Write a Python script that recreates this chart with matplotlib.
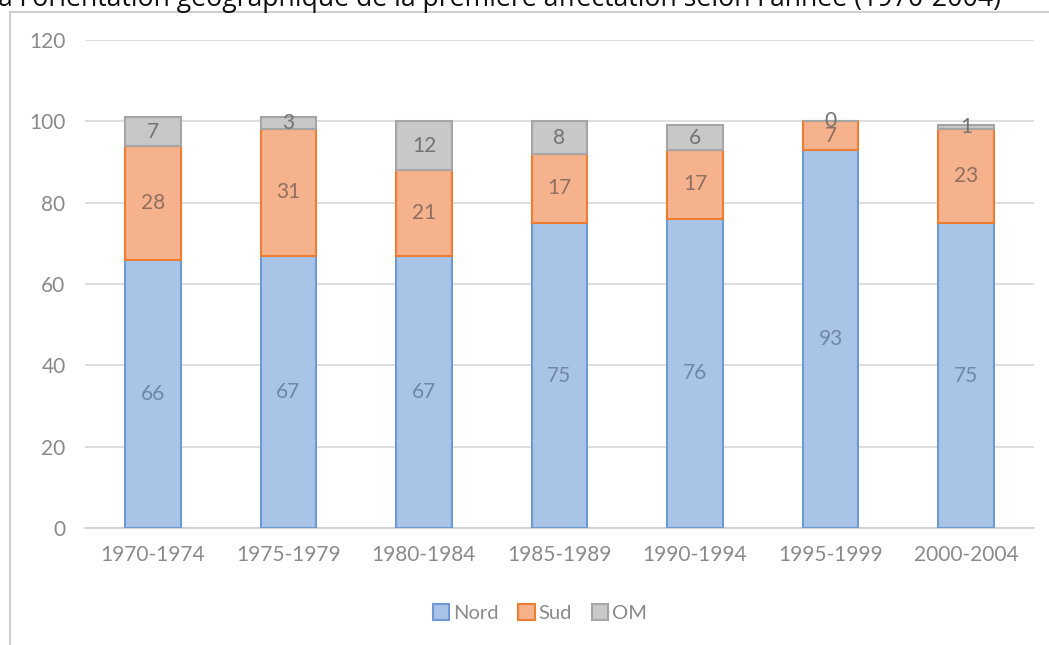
import matplotlib
matplotlib.use("Agg")
import matplotlib.pyplot as plt
from matplotlib.patches import Rectangle
import numpy as np

# Périodes et répartition (%) de la première affectation
periodes = ["1970-1974", "1975-1979", "1980-1984", "1985-1989", "1990-1994", "1995-1999", "2000-2004"]
nord = [66, 67, 67, 75, 76, 93, 75]
sud = [28, 31, 21, 17, 17, 7, 23]
om = [7, 3, 12, 8, 6, 0, 1]
yticks = [0, 20, 40, 60, 80, 100, 120]

plt.rcParams["font.family"] = ["Lato", "DejaVu Sans"]

fig = plt.figure(figsize=(10.49, 6.45), dpi=100)
ax = fig.add_axes([85 / 1049, 1 - 528 / 645, (1034 - 85) / 1049, (528 - 40) / 645])

# cadre du graphique
fig.patches.append(Rectangle((10 / 1049, -0.1), 1.2, 1 - 12 / 645 + 0.1, transform=fig.transFigure,
                             facecolor="none", edgecolor="#d0d0d0", linewidth=1.5, zorder=0))

# titre (partiellement coupé en haut)
fig.text(-0.002, 1 + 1.5 / 645, "a l'orientation géographique de la première affectation selon l'année (1970-2004)",
         ha="left", va="center", fontsize=19.2, color="#111111", family=["Open Sans", "DejaVu Sans"])

x = np.arange(len(periodes))
w = 0.41
styles = [
    ("Nord", nord, "#a8c4e7", "#6e9ad4", "#7088a8"),
    ("Sud", sud, "#f5b28c", "#ed7d31", "#8f7060"),
    ("OM", om, "#c8c8c8", "#a5a5a5", "#737373"),
]
bottom = np.zeros(len(periodes))
for name, vals, fc, ec, tc in styles:
    vals = np.array(vals, dtype=float)
    ax.bar(x, vals, w, bottom=bottom, color=fc, edgecolor=ec, linewidth=1.5, label=name, zorder=3)
    for xi, b, v in zip(x, bottom, vals):
        ax.text(xi, b + v / 2, f"{int(v)}", ha="center", va="center", fontsize=15, color=tc, zorder=4)
    bottom += vals

ax.set_xlim(-0.5, len(periodes) - 0.5)
ax.set_ylim(0, 120)
ax.set_yticks(yticks)
ax.set_xticks(x)
ax.set_xticklabels(periodes)
ax.yaxis.grid(True, color="#d9d9d9", linewidth=1.2, zorder=0)
ax.set_axisbelow(True)
for s in ["top", "right", "left"]:
    ax.spines[s].set_visible(False)
ax.spines["bottom"].set_color("#d0d0d0")
ax.spines["bottom"].set_linewidth(1.2)
ax.tick_params(axis="both", length=0, labelsize=15, labelcolor="#8a8a8a")
ax.tick_params(axis="x", pad=12)
ax.tick_params(axis="y", pad=14)

handles, labels = ax.get_legend_handles_labels()
fig.legend(handles, labels, loc="center", bbox_to_anchor=(540 / 1049, 1 - 613 / 645), ncol=3,
           frameon=False, fontsize=14.5, labelcolor="#8a8a8a", handlelength=0.8, handleheight=0.8,
           handletextpad=0.2, columnspacing=1.0)

fig.savefig("out.png", dpi=100, facecolor="white")
